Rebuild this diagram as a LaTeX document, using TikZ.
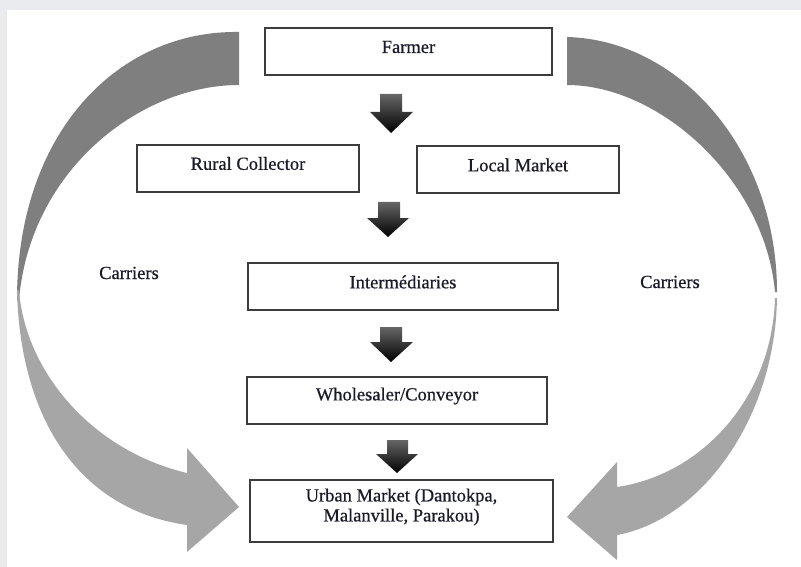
\documentclass[tikz,border=0pt]{standalone}
\usepackage{fontspec}
\setmainfont{Liberation Serif}
\newfontfamily\dfont[FakeBold=0.6]{Liberation Serif}
\definecolor{bgc}{HTML}{E9EBEE}
\definecolor{darkarc}{HTML}{7F7F7F}
\definecolor{lightarc}{HTML}{A6A6A6}
\definecolor{boxc}{HTML}{3C3C3C}
\definecolor{txtc}{HTML}{1A1A2A}
\begin{document}
\begin{tikzpicture}[x=1pt,y=-1pt,
  box/.style={draw=boxc, line width=1.3pt, fill=white, inner sep=0pt},
  txt/.style={font=\dfont\fontsize{18.5}{20}\selectfont, text=txtc, inner sep=0pt, align=center},
  blk/.style={top color=black!60, bottom color=black, draw=none}]
% background
\fill[bgc] (0,0) rectangle (801,567);
\fill[white] (7,10) rectangle (801,567);
\useasboundingbox (0,0) rectangle (801,567);

% curved side arrows
\fill[darkarc] (239,32) .. controls (120,30) and (17,130) .. (17,300)
  -- (19,300) .. controls (30,170) and (140,85) .. (239,85) -- cycle;
\fill[lightarc] (17,290) .. controls (20,420) and (80,510) .. (187,525)
  -- (187,552) -- (239,507) -- (187,448) -- (187,473)
  .. controls (90,450) and (25,370) .. (19,290) -- cycle;
\fill[darkarc] (567,37) .. controls (680,40) and (777,150) .. (777,292)
  -- (775,292) .. controls (765,180) and (660,85) .. (567,85) -- cycle;
\fill[lightarc] (777,298) .. controls (775,420) and (700,520) .. (617,535)
  -- (617,560) -- (567,517) -- (617,462) -- (617,487)
  .. controls (700,475) and (772,400) .. (775,298) -- cycle;

% boxes
\node[box, minimum width=287pt, minimum height=47pt,
  label={[txt,yshift=4.5pt]center:Farmer}] (farmer) at (408.5,51.5) {};
\node[box, minimum width=222pt, minimum height=47pt,
  label={[txt,yshift=5pt]center:Rural Collector}] (rural) at (248,168.5) {};
\node[box, minimum width=202pt, minimum height=47pt,
  label={[txt,yshift=4.5pt]center:Local Market}] (local) at (518,169.5) {};
\node[box, minimum width=310pt, minimum height=47pt,
  label={[txt,yshift=4.5pt]center:Intermédiaries}] (inter) at (403,286.5) {};
\node[box, minimum width=300pt, minimum height=47pt,
  label={[txt,yshift=4.5pt]center:Wholesaler/Conveyor}] (whole) at (397,400.5) {};
\node[box, minimum width=303pt, minimum height=62pt,
  label={[txt,yshift=4pt]center:Urban Market (Dantokpa,\\Malanville, Parakou)}] (urban) at (401.5,511) {};

% carriers labels
\node[txt] (carL) at (129,273) {Carriers};
\node[txt] (carR) at (670,282) {Carriers};

% black block arrows
\shade[blk] (380,94) -- (402,94) -- (402,112) -- (413,112) -- (391,133) -- (370,112) -- (380,112) -- cycle;
\shade[blk] (378,202) -- (400,202) -- (400,218) -- (409,218) -- (388,237) -- (367,218) -- (378,218) -- cycle;
\shade[blk] (380,327) -- (402,327) -- (402,342) -- (413,342) -- (391,362) -- (370,342) -- (380,342) -- cycle;
\shade[blk] (387,440) -- (408,440) -- (408,454) -- (418,454) -- (397,473) -- (376,454) -- (387,454) -- cycle;
\end{tikzpicture}
\end{document}
